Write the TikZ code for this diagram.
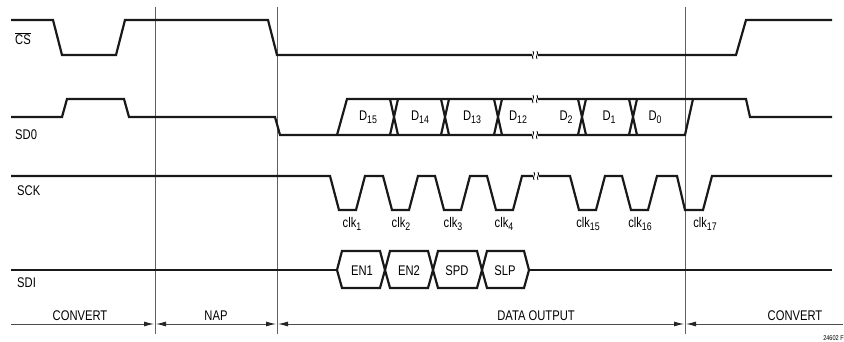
\documentclass[tikz,border=0pt]{standalone}
\usepackage{fontspec}
\setmainfont[FakeStretch=0.8]{Liberation Sans}
\usetikzlibrary{arrows.meta}
\newcommand{\brk}[2]{%
  \fill [white] (#1-3,#2-4) rectangle (#1+3,#2+4);
  \draw [black,line width=0.8pt] (#1-2,#2-4) .. controls (#1,#2-1) and (#1-4,#2+1) .. (#1-2,#2+4);
  \draw [black,line width=0.8pt] (#1+2,#2-4) .. controls (#1+4,#2-1) and (#1,#2+1) .. (#1+2,#2+4);}
\newcommand{\sub}[1]{\raisebox{-0.45ex}{\fontsize{11}{12}\selectfont #1}}
\begin{document}
\begin{tikzpicture}[x=1pt,y=-1pt,
  wave/.style={black!90,line width=2.2pt,line join=miter},
  grid/.style={gray!75!black,line width=0.9pt},
  span/.style={gray!60!black,line width=0.9pt,>={Latex[length=10pt,width=5pt,color=black!85]}}]
\tikzstyle{every node}+=[inner sep=0pt,font=\fontsize{14}{16}\selectfont]
\useasboundingbox (0,0) rectangle (844,342);
\draw [grid] (155,7) -- (155,334);
\draw [grid] (277,7) -- (277,334);
\draw [grid] (685,7) -- (685,334);
\draw [wave] (11,20) -- (53,20) -- (62,55) -- (116,55) -- (125,20) -- (268,20) -- (277,55) -- (736,55) -- (746,20) -- (832,20);
\brk{535}{55}
\node (cs) [anchor=west] at (15,39) {$\overline{\mbox{CS}}$};
\draw [wave] (11,117) -- (62,117) -- (67,99) -- (124,99) -- (129,117) -- (275,117) -- (280,135) -- (685,135) -- (693,99);
\draw [wave] (337,135) -- (347,99) -- (746,99) -- (750,117) -- (832,117);
\draw [wave] (390,99) -- (398,135) (390,135) -- (398,99);
\draw [wave] (441,99) -- (449,135) (441,135) -- (449,99);
\draw [wave] (494,99) -- (502,135) (494,135) -- (502,99);
\draw [wave] (578,99) -- (586,135) (578,135) -- (586,99);
\draw [wave] (629,99) -- (637,135) (629,135) -- (637,99);
\brk{535}{99}
\brk{535}{135}
\node (sdo) [anchor=west] at (15,135) {SD0};
\node (d15) at (368,117) {D\sub{15}};
\node (d14) at (420,117) {D\sub{14}};
\node (d13) at (472,117) {D\sub{13}};
\node (d12) at (518,117) {D\sub{12}};
\node (d2) at (566,117) {D\sub{2}};
\node (d1) at (609,117) {D\sub{1}};
\node (d0) at (655,117) {D\sub{0}};
\draw [wave] (11,176) -- (330,176) -- (339,210) -- (356,210) -- (365,176)
  -- (383,176) -- (392,210) -- (409,210) -- (418,176)
  -- (435,176) -- (444,210) -- (461,210) -- (470,176)
  -- (487,176) -- (496,210) -- (513,210) -- (522,176)
  -- (570,176) -- (579,210) -- (596,210) -- (605,176)
  -- (622,176) -- (631,210) -- (648,210) -- (657,176)
  -- (677,176) -- (685,210) -- (703,210) -- (712,176) -- (832,176);
\brk{536}{176}
\node (sck) [anchor=west] at (17,191) {SCK};
\node (clk1) at (352,224) {clk\sub{1}};
\node (clk2) at (401,224) {clk\sub{2}};
\node (clk3) at (453,224) {clk\sub{3}};
\node (clk4) at (504,224) {clk\sub{4}};
\node (clk15) at (588,224) {clk\sub{15}};
\node (clk16) at (640,224) {clk\sub{16}};
\node (clk17) at (705,224) {clk\sub{17}};
\draw [wave] (11,270) -- (337,270);
\draw [wave] (337,270) -- (342,251) -- (380,251) -- (385,270) -- (380,288) -- (342,288) -- cycle;
\draw [wave] (385,270) -- (390,251) -- (428,251) -- (433,270) -- (428,288) -- (390,288) -- cycle;
\draw [wave] (433,270) -- (438,251) -- (477,251) -- (482,270) -- (477,288) -- (438,288) -- cycle;
\draw [wave] (482,270) -- (487,251) -- (524,251) -- (529,270) -- (524,288) -- (487,288) -- cycle;
\draw [wave] (529,270) -- (832,270);
\node (sdi) [anchor=west] at (17,283) {SDI};
\node (en1) at (362,271) {EN1};
\node (en2) at (409,271) {EN2};
\node (spd) at (457,271) {SPD};
\node (slp) at (505,271) {SLP};
\draw [span,->] (11,324) -- (154,324);
\draw [span,<->] (156,324) -- (276,324);
\draw [span,<->] (278,324) -- (684,324);
\draw [span,<-] (686,324) -- (843,324);
\node (convl) at (80,316) {CONVERT};
\node (nap) at (216,316) {NAP};
\node (dout) at (536,316) {DATA OUTPUT};
\node (convr) at (795,316) {CONVERT};
\node (fig) [anchor=east,font=\fontsize{7}{8}\selectfont] at (844,338) {24602 F};
\end{tikzpicture}
\end{document}
